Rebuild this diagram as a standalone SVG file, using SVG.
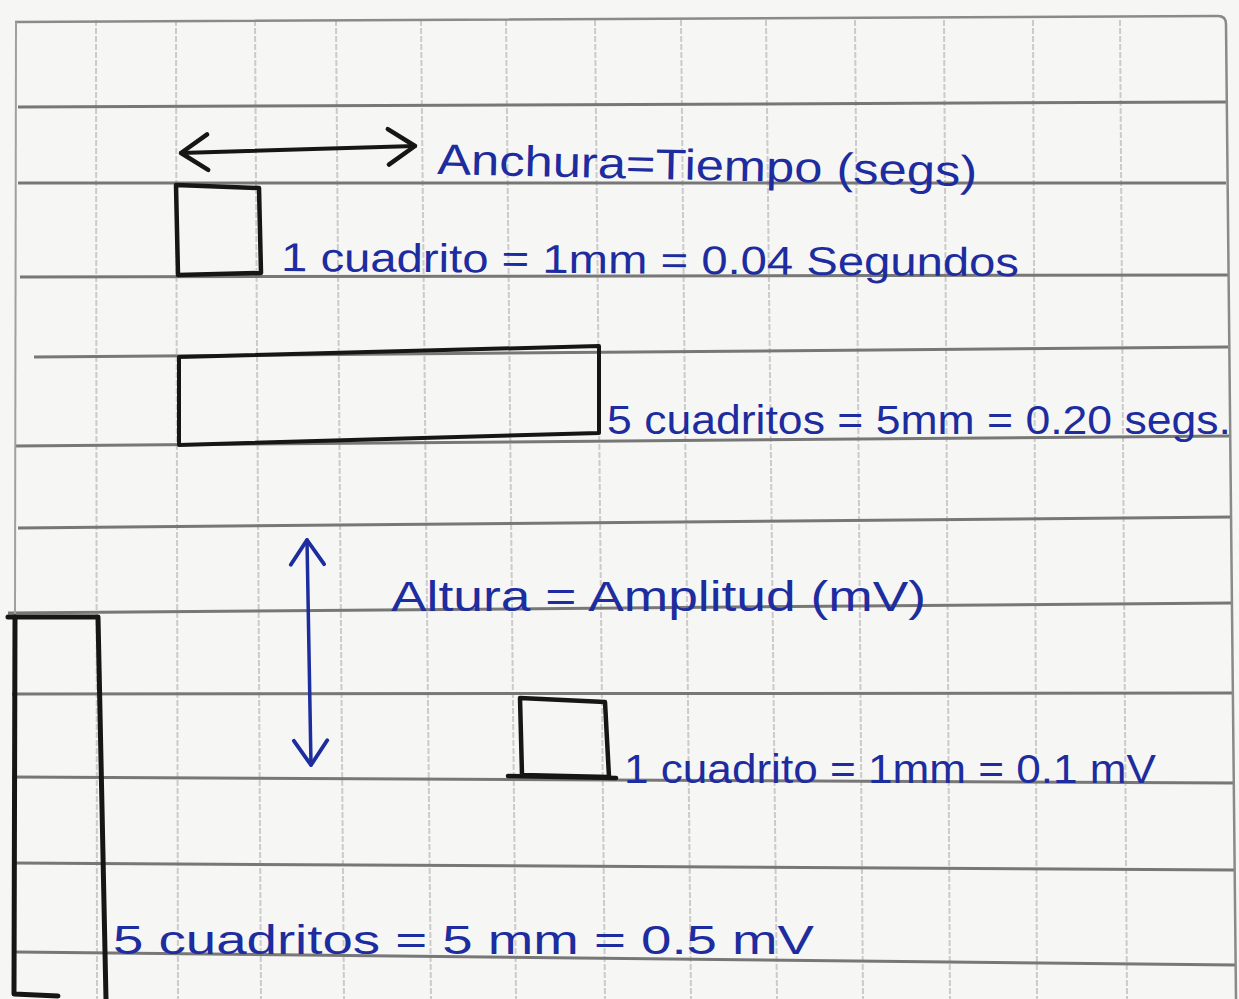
<svg xmlns="http://www.w3.org/2000/svg" width="1239" height="999" viewBox="0 0 1239 999">
  <style>
    .hl { stroke: #777777; stroke-width: 3; fill: none; }
    .vl { stroke: #cbcbcb; stroke-width: 2; fill: none; stroke-dasharray: 6 2; }
    .edge { stroke: #8a8a8a; stroke-width: 2.5; fill: none; }
    .ink { stroke: #161616; stroke-width: 4.5; fill: none; stroke-linejoin: round; stroke-linecap: round; }
    .hand { font-family: "Liberation Sans", "DejaVu Sans", sans-serif; fill: #1d2c9e; }
  </style>
  <defs>
    <marker id="chev-black" markerUnits="userSpaceOnUse" markerWidth="40" markerHeight="40" viewBox="-2 -2 34 36" refX="26" refY="16" orient="auto-start-reverse" overflow="visible">
      <path d="M2,0 L26,16 L2,32" fill="none" stroke="#161616" stroke-width="4" stroke-linecap="round" stroke-linejoin="round"/>
    </marker>
    <marker id="chev-blue" markerUnits="userSpaceOnUse" markerWidth="40" markerHeight="40" viewBox="-2 -2 34 36" refX="24" refY="16" orient="auto-start-reverse" overflow="visible">
      <path d="M2,1 L24,16 L2,31" fill="none" stroke="#1d2c9e" stroke-width="3.5" stroke-linecap="round" stroke-linejoin="round"/>
    </marker>
  </defs>

  <!-- paper -->
  <rect x="0" y="0" width="1239" height="999" fill="#f6f6f4"/>

  <!-- grid: vertical (light) -->
  <g id="grid-vertical">
    <line class="vl" x1="96" y1="20" x2="97" y2="999"/>
    <line class="vl" x1="176" y1="20" x2="178" y2="999"/>
    <line class="vl" x1="255" y1="20" x2="261" y2="999"/>
    <line class="vl" x1="336" y1="20" x2="344" y2="999"/>
    <line class="vl" x1="421" y1="20" x2="431" y2="999"/>
    <line class="vl" x1="506" y1="20" x2="516" y2="999"/>
    <line class="vl" x1="595" y1="20" x2="605" y2="999"/>
    <line class="vl" x1="681" y1="20" x2="691" y2="999"/>
    <line class="vl" x1="766" y1="20" x2="777" y2="999"/>
    <line class="vl" x1="855" y1="20" x2="863" y2="999"/>
    <line class="vl" x1="944" y1="20" x2="950" y2="999"/>
    <line class="vl" x1="1033" y1="20" x2="1037" y2="999"/>
    <line class="vl" x1="1120" y1="20" x2="1127" y2="999"/>
  </g>

  <!-- grid: horizontal ruled lines -->
  <g id="grid-horizontal">
    <line class="hl" x1="18" y1="107" x2="1226" y2="102"/>
    <line class="hl" x1="18" y1="183" x2="1226" y2="183"/>
    <line class="hl" x1="20" y1="277" x2="1228" y2="275"/>
    <line class="hl" x1="34" y1="357" x2="1228" y2="347"/>
    <line class="hl" x1="15" y1="446" x2="1230" y2="436"/>
    <line class="hl" x1="18" y1="528" x2="1232" y2="517"/>
    <line class="hl" x1="8" y1="613" x2="1232" y2="603"/>
    <line class="hl" x1="12" y1="694" x2="1234" y2="693"/>
    <line class="hl" x1="12" y1="777" x2="1234" y2="783"/>
    <line class="hl" x1="14" y1="863" x2="1234" y2="870"/>
    <line class="hl" x1="16" y1="952" x2="1236" y2="965"/>
  </g>

  <!-- page edges -->
  <g id="page-edges">
    <path class="edge" d="M15,22 L1218,16 Q1226,16 1226,24"/>
    <path class="edge" d="M1226,24 L1236,999"/>
    <line class="edge" x1="16" y1="22" x2="15" y2="615" style="stroke:#a0a0a0;stroke-width:2"/>
  </g>

  <!-- connectors -->
  <g id="connectors">
    <path id="arrow-anchura" d="M181,153 L415,146" fill="none" stroke="#161616" stroke-width="4" stroke-linecap="round" marker-start="url(#chev-black)" marker-end="url(#chev-black)"/>
    <path id="arrow-altura" d="M307,540 L311,765" fill="none" stroke="#1d2c9e" stroke-width="3.5" stroke-linecap="round" marker-start="url(#chev-blue)" marker-end="url(#chev-blue)"/>
  </g>

  <!-- nodes -->
  <g id="label-anchura">
    <text class="hand" x="437" y="174" font-size="43" textLength="540" lengthAdjust="spacingAndGlyphs" transform="rotate(1.3 437 174)">Anchura=Tiempo (segs)</text>
  </g>

  <g id="square-1mm-time">
    <path class="ink" d="M176,185 L259,188 L261,273 L178,275 Z"/>
    <text class="hand" x="281" y="271" font-size="40" textLength="738" lengthAdjust="spacingAndGlyphs" transform="rotate(0.4 281 271)">1 cuadrito = 1mm = 0.04 Segundos</text>
  </g>

  <g id="rect-5mm-time">
    <path class="ink" d="M179,357 L599,346 L599,433 L179,445 Z" style="stroke-width:4"/>
    <text class="hand" x="607" y="434" font-size="40" textLength="624" lengthAdjust="spacingAndGlyphs">5 cuadritos = 5mm = 0.20 segs.</text>
  </g>

  <g id="label-altura">
    <text class="hand" x="391" y="611" font-size="43" textLength="535" lengthAdjust="spacingAndGlyphs">Altura = Amplitud (mV)</text>
  </g>

  <g id="square-1mm-amp">
    <path class="ink" d="M520,698 L605,702 L609,777 L522,775 Z"/>
    <line class="ink" x1="508" y1="776" x2="616" y2="778"/>
    <text class="hand" x="624" y="783" font-size="40" textLength="532" lengthAdjust="spacingAndGlyphs">1 cuadrito = 1mm = 0.1 mV</text>
  </g>

  <g id="rect-5mm-amp">
    <path class="ink" d="M8,617 L98,617 L106,999" style="stroke-width:5"/>
    <path class="ink" d="M15,617 L14,994 L58,996" style="stroke-width:5"/>
    <text class="hand" x="113" y="954" font-size="40" textLength="701" lengthAdjust="spacingAndGlyphs">5 cuadritos = 5 mm = 0.5 mV</text>
  </g>
</svg>
